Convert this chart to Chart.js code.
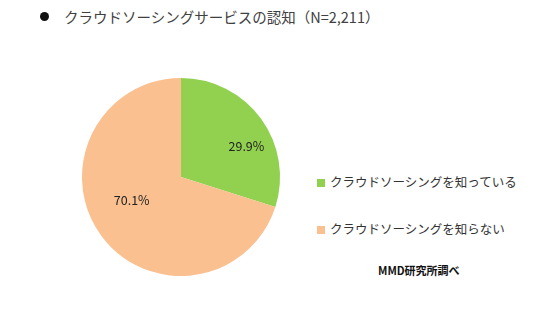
<!DOCTYPE html>
<html>
<head>
<meta charset="utf-8">
<script src="https://cdn.jsdelivr.net/npm/chart.js@4"></script>
<style>
  body { margin: 0; background: #fff; font-family: "Noto Sans CJK JP", sans-serif; }
  #wrap { position: relative; width: 542px; height: 332px; overflow: hidden; }
  #title { position: absolute; left: 40px; top: 6px; font-size: 14.5px; color: #404040; white-space: nowrap; }
  #title .dot { display: inline-block; width: 9px; height: 9px; border-radius: 50%; background: #111; margin-right: 15px; vertical-align: 2px; }
  #chartBox { position: absolute; left: 70px; top: 66px; width: 222px; height: 222px; }
  #legend { position: absolute; left: 317px; top: 172px; font-size: 12.5px; color: #333; }
  #legend div { height: 47px; white-space: nowrap; }
  #legend span.sw { display: inline-block; width: 8px; height: 8px; margin-right: 5px; vertical-align: 0px; }
  #source { position: absolute; left: 378px; top: 262px; font-size: 11px; font-weight: bold; color: #111; white-space: nowrap; }
</style>
</head>
<body>
<div id="wrap">
  <div id="title"><span class="dot"></span><span id="titleText"></span></div>
  <div id="chartBox"><canvas id="pie"></canvas></div>
  <div id="legend"></div>
  <div id="source">MMD研究所調べ</div>
</div>
<script>
document.addEventListener("DOMContentLoaded", function () {
    const titleText = "クラウドソーシングサービスの認知（N=2,211）";
    const categories = ["クラウドソーシングを知っている", "クラウドソーシングを知らない"];
    const values = [29.9, 70.1];
    const colors = ["#92D050", "#FAC090"];
    const labelRadius = [0.73, 0.55]; // where the % labels sit, as a share of the radius
    const labelShift = 11 * Math.PI / 180; // labels sit a bit clockwise of the slice middle

    document.getElementById("titleText").textContent = titleText;

    const legend = document.getElementById("legend");
    categories.forEach((name, i) => {
        const row = document.createElement("div");
        const sw = document.createElement("span");
        sw.className = "sw";
        sw.style.background = colors[i];
        row.appendChild(sw);
        row.appendChild(document.createTextNode(name));
        legend.appendChild(row);
    });

    // draws the percent labels inside the slices
    const pctLabels = {
        id: "pctLabels",
        afterDatasetsDraw(chart) {
            const ctx = chart.ctx;
            const meta = chart.getDatasetMeta(0);
            ctx.save();
            ctx.font = "12.5px 'Noto Sans CJK JP', sans-serif";
            ctx.fillStyle = "#222";
            ctx.textAlign = "center";
            ctx.textBaseline = "middle";
            meta.data.forEach((arc, i) => {
                const mid = (arc.startAngle + arc.endAngle) / 2 + labelShift;
                const r = arc.outerRadius * labelRadius[i];
                const x = arc.x + Math.cos(mid) * r;
                const y = arc.y + Math.sin(mid) * r;
                ctx.fillText(values[i].toFixed(1) + "%", x, y);
            });
            ctx.restore();
        }
    };

    new Chart(document.getElementById("pie"), {
        type: "pie",
        data: {
            labels: categories,
            datasets: [{
                data: values,
                backgroundColor: colors,
                borderColor: "#ffffff",
                borderWidth: 0
            }]
        },
        options: {
            responsive: true,
            maintainAspectRatio: false,
            animation: false,
            layout: { padding: 12 },
            plugins: {
                legend: { display: false },
                tooltip: { enabled: false }
            }
        },
        plugins: [pctLabels]
    });
});
</script>
</body>
</html>
